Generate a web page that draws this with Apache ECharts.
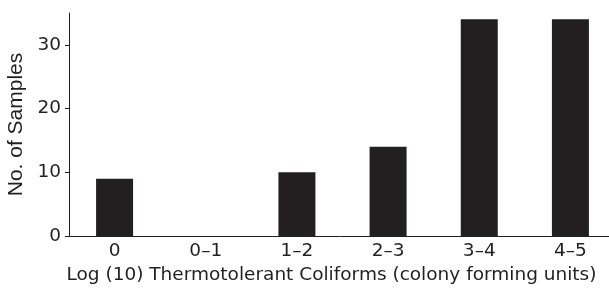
<!DOCTYPE html>
<html lang="en">
<head>
    <meta charset="UTF-8">
    <title>Thermotolerant Coliforms</title>
    <script src="https://cdn.jsdelivr.net/npm/echarts@6/dist/echarts.min.js"></script>
    <style>
        html, body { margin: 0; padding: 0; background: #fff; }
        #main { width: 609px; height: 288px; }
    </style>
</head>
<body>
<div id="main"></div>
<script type="text/javascript">
    // data
    var categories = ['0', '0\u20131', '1\u20132', '2\u20133', '3\u20134', '4\u20135'];
    var samples = [9, 0, 10, 14, 34, 34];
    var yTicks = [0, 10, 20, 30];

    var ink = '#231f20';
    // the horizontal text in the figure is wide, so a wider face is used for it
    var wideFont = '"DejaVu Sans", Verdana, sans-serif';
    var font = '"Liberation Sans", Arial, Helvetica, sans-serif';

    var myChart = echarts.init(document.getElementById('main'));
    var option = {
        animation: false,
        grid: { left: 69, top: 13, width: 547, height: 223, outerBoundsMode: 'none' },
        xAxis: {
            type: 'category',
            data: categories,
            name: 'Log (10) Thermotolerant Coliforms (colony forming units)',
            nameLocation: 'middle',
            nameGap: 27,
            nameTextStyle: { color: ink, fontSize: 18.5, fontFamily: wideFont, padding: [0, 22, 0, 0] },
            axisLine: { lineStyle: { color: ink, width: 1 } },
            axisTick: { length: 4, lineStyle: { color: ink } },
            axisLabel: { color: ink, fontSize: 18.5, fontFamily: wideFont, margin: 6 }
        },
        yAxis: {
            type: 'value',
            min: 0,
            max: 35,
            interval: 10,
            name: 'No. of Samples',
            nameLocation: 'middle',
            nameGap: 39,
            nameTextStyle: { color: ink, fontSize: 21, fontFamily: font },
            splitLine: { show: false },
            axisLine: { show: true, lineStyle: { color: ink, width: 1 } },
            axisTick: { show: true, length: 4, lineStyle: { color: ink }, customValues: yTicks },
            axisLabel: { color: ink, fontSize: 18.5, fontFamily: wideFont, margin: 8, customValues: yTicks }
        },
        series: [
            {
                type: 'bar',
                data: samples,
                barWidth: 37,
                itemStyle: { color: ink }
            }
        ]
    };
    myChart.setOption(option);
</script>
</body>
</html>
